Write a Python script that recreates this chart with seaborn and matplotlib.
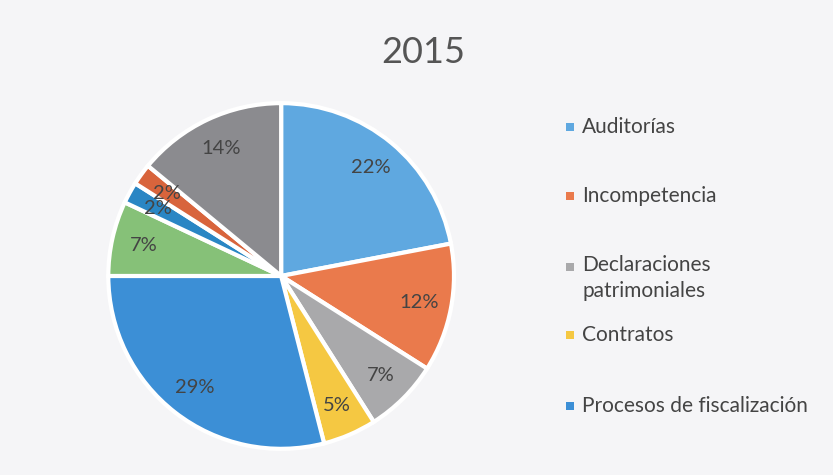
import matplotlib
matplotlib.use("Agg")
import matplotlib.pyplot as plt
import seaborn as sns
from matplotlib.patches import Rectangle

sns.set_style("white")
plt.rcParams['font.family'] = ['Lato', 'DejaVu Sans']

title = "2015"
categories = ["Auditorías", "Incompetencia", "Declaraciones\npatrimoniales", "Contratos",
              "Procesos de fiscalización", "Otros 1", "Otros 2", "Otros 3", "Otros 4"]
values = [22, 12, 7, 5, 29, 7, 2, 2, 14]
colors = ["#5fa8e0", "#ea7a4c", "#a9a9ab", "#f5c842", "#3c8fd6",
          "#86c178", "#2a86c4", "#d8643c", "#8b8b8f"]
legend_labels = categories[:5]
legend_colors = colors[:5]

bg = "#f5f5f7"
text_color = "#444444"

fig = plt.figure(figsize=(8.33, 4.75), dpi=100)
fig.patch.set_facecolor(bg)

ax = fig.add_axes([0.130, 0.055, 0.415, 0.728])
ax.set_facecolor(bg)
wedges, texts, autotexts = ax.pie(
    values, colors=colors, startangle=90, counterclock=False,
    autopct=lambda p: f"{p:.0f}%", pctdistance=0.815,
    wedgeprops=dict(edgecolor="white", linewidth=3),
    textprops=dict(color=text_color, fontsize=14.5))
ax.set_xlim(-1, 1)
ax.set_ylim(-1, 1)
ax.set_aspect("equal")
ax.axis("off")

fig.text(0.508, 0.89, title, ha="center", va="center", fontsize=26, color="#555555")

legend_y = [127, 196, 267, 335, 406]
for lab, col, yp in zip(legend_labels, legend_colors, legend_y):
    y = 1 - yp / 475
    fig.patches.append(Rectangle((566 / 833, y - 4 / 475), 8 / 833, 8 / 475,
                                 transform=fig.transFigure, facecolor=col,
                                 edgecolor="none"))
    if "\n" in lab:
        fig.text(582 / 833, y + 12 / 475, lab, ha="left", va="top",
                 fontsize=15, color=text_color, linespacing=1.4)
    else:
        fig.text(582 / 833, y, lab, ha="left", va="center",
                 fontsize=15, color=text_color)

fig.savefig("out.png", dpi=100, facecolor=bg)
